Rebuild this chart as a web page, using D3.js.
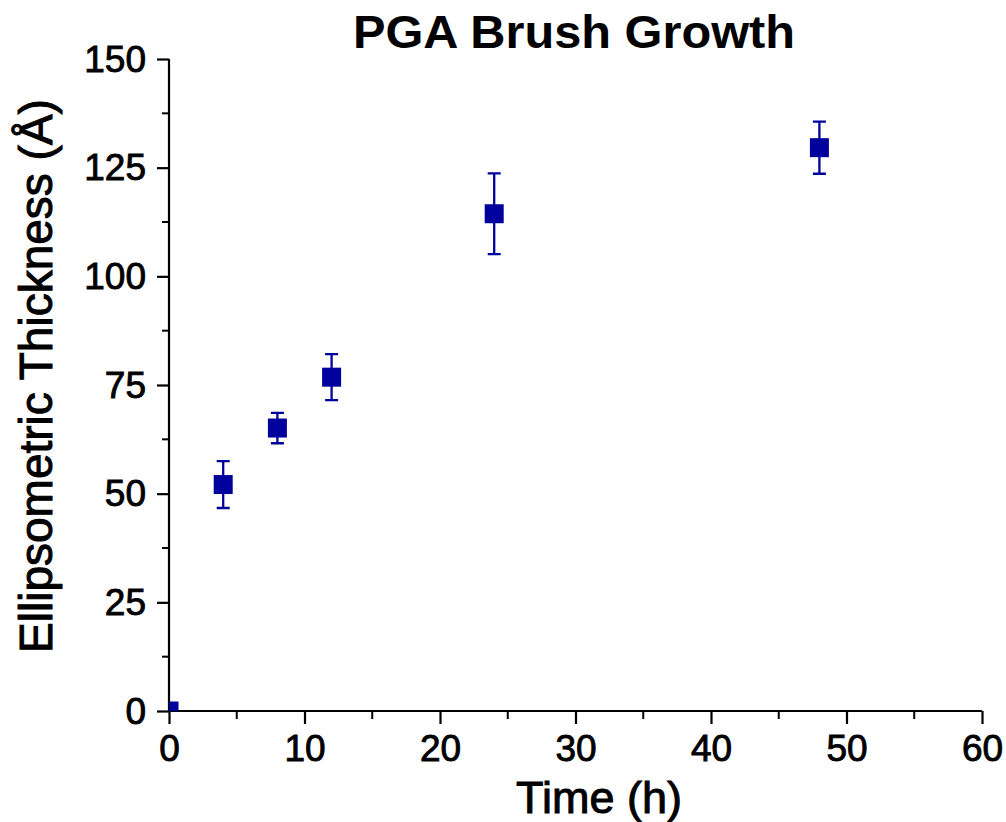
<!DOCTYPE html>
<html><head><meta charset="utf-8">
<script src="https://cdn.jsdelivr.net/npm/d3@7"></script>
<style>body{margin:0;background:#fff}svg{display:block}</style>
</head><body><svg id="c" width="1006" height="822"></svg>
<script>
const timeH = [0, 4, 8, 12, 24, 48];
const thickness = [0, 52.1, 65.1, 76.8, 114.4, 129.6];
const errors = [0, 5.4, 3.5, 5.3, 9.3, 6.0];
const xTicks = [0, 10, 20, 30, 40, 50, 60];
const yTicks = [0, 25, 50, 75, 100, 125, 150];
const xMinor = [5, 15, 25, 35, 45, 55];
const yMinor = [12.5, 37.5, 62.5, 87.5, 112.5, 137.5];

const svg = d3.select('#c');
const font = 'Arial, "Liberation Sans", sans-serif';
const L = 169, R = 982, T = 59, B = 711;
const x = d3.scaleLinear().domain([0, 60]).range([L, R]);
const y = d3.scaleLinear().domain([0, 150]).range([B, T]);
const blue = '#00009c';

svg.append('clipPath').attr('id', 'clip').append('rect')
  .attr('x', L).attr('y', T - 20).attr('width', R - L + 20).attr('height', B - T + 20);

// axes
const xAxis = svg.append('g').attr('transform', `translate(0,${B})`)
  .call(d3.axisBottom(x).tickValues(xTicks).tickSize(13).tickPadding(10).tickFormat(d3.format('d')));
const yAxis = svg.append('g').attr('transform', `translate(${L},0)`)
  .call(d3.axisLeft(y).tickValues(yTicks).tickSize(12).tickPadding(11).tickFormat(d3.format('d')));
[xAxis, yAxis].forEach(g => {
  g.select('.domain').attr('stroke', '#000').attr('stroke-width', 2.2);
  g.selectAll('.tick line').attr('stroke', '#000').attr('stroke-width', 2.2);
  g.selectAll('.tick text').attr('fill', '#000').attr('stroke', '#000').attr('stroke-width', 0.9)
    .style('font-family', font).style('font-size', '37px');
});
xAxis.select('.domain').attr('d', `M${L},0H${R}`);
yAxis.select('.domain').attr('d', `M0,${B}V${T}`);
xAxis.selectAll('.tick text').attr('dy', '0.72em');
yAxis.selectAll('.tick text').attr('dy', '0.33em');

svg.append('g').selectAll('line').data(xMinor).join('line')
  .attr('x1', d => x(d)).attr('x2', d => x(d)).attr('y1', B).attr('y2', B + 8)
  .attr('stroke', '#000').attr('stroke-width', 2);
svg.append('g').selectAll('line').data(yMinor).join('line')
  .attr('y1', d => y(d)).attr('y2', d => y(d)).attr('x1', L).attr('x2', L - 7)
  .attr('stroke', '#000').attr('stroke-width', 2);

// data
const data = timeH.map((t, i) => ({t, v: thickness[i], e: errors[i]}));
const pg = svg.append('g').attr('clip-path', 'url(#clip)');
const cap = 6.5;
const eb = data.filter(d => d.e > 0);
pg.selectAll('.eb').data(eb).join('path')
  .attr('d', d => `M${x(d.t)},${y(d.v + d.e)}V${y(d.v - d.e)}M${x(d.t) - cap},${y(d.v + d.e)}H${x(d.t) + cap}M${x(d.t) - cap},${y(d.v - d.e)}H${x(d.t) + cap}`)
  .attr('stroke', blue).attr('stroke-width', 2.3).attr('fill', 'none');
const s = 19;
pg.selectAll('.pt').data(data).join('rect')
  .attr('x', d => x(d.t) - s / 2).attr('y', d => y(d.v) - s / 2)
  .attr('width', s).attr('height', s).attr('fill', blue);

// titles
svg.append('text').attr('x', 574).attr('y', 48).attr('text-anchor', 'middle')
  .style('font-family', font).style('font-size', '47px').style('font-weight', 'bold')
  .attr('textLength', 442).attr('lengthAdjust', 'spacingAndGlyphs')
  .text('PGA Brush Growth');
svg.append('text').attr('x', 599).attr('y', 813).attr('text-anchor', 'middle')
  .attr('stroke', '#000').attr('stroke-width', 1)
  .style('font-family', font).style('font-size', '45px')
  .text('Time (h)');
svg.append('text').attr('transform', 'translate(52,376) rotate(-90)').attr('text-anchor', 'middle')
  .attr('stroke', '#000').attr('stroke-width', 1)
  .style('font-family', font).style('font-size', '46px')
  .text('Ellipsometric Thickness (Å)');
</script></body></html>
